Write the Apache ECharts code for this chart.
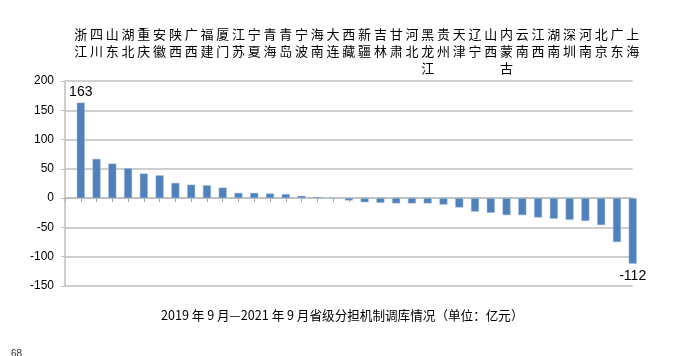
<!DOCTYPE html>
<html>
<head>
<meta charset="utf-8">
<script src="https://cdn.jsdelivr.net/npm/echarts@6/dist/echarts.min.js"></script>
<style>html,body{margin:0;padding:0;background:#fff;}#c{width:687px;height:356px;}</style>
</head>
<body>
<div id="c"></div>
<script>
var categories = ['浙江','四川','山东','湖北','重庆','安徽','陕西','广西','福建','厦门','江苏','宁夏','青海','青岛','宁波','海南','大连','西藏','新疆','吉林','甘肃','河北','黑龙江','贵州','天津','辽宁','山西','内蒙古','云南','江西','湖南','深圳','河南','北京','广东','上海'];
var values = [163,67,59,51,42,39,26,23,22,18,9,9,8,7,4,2,-0.5,-4,-7,-8,-9,-9,-9,-11,-16,-23,-25,-29,-29,-33,-35,-37,-39,-46,-75,-112];
var yTicks = {min:-150, max:200, interval:50};
var titleText = '2019 年 9 月—2021 年 9 月省级分担机制调库情况（单位：亿元）';
var pageNo = '68';

var cats = [''].concat(categories);
var barData = [null].concat(values.map(function(v, i){
  var item = {value: v};
  if (i === 0) item.label = {show:true, position:'top', distance:4};
  if (i === values.length - 1) item.label = {show:true, position:'bottom', distance:5};
  return item;
}));
var font = '"Noto Sans CJK SC", "Liberation Sans", sans-serif';
var chart = echarts.init(document.getElementById('c'));
chart.setOption({
  animation:false,
  grid:{left:65, top:81, width:567.7, height:205, containLabel:false},
  title:{text:titleText, left:156, top:304, textStyle:{fontSize:12.6, fontWeight:'normal', color:'#000', fontFamily:font}},
  graphic:[{type:'text', left:11, top:349, style:{text:pageNo, fontSize:10, fill:'#333', fontFamily:'Liberation Sans'}}],
  xAxis:[{
    type:'category', data:cats, boundaryGap:false,
    axisLine:{show:true, onZero:true, lineStyle:{color:'#bfbfbf', width:1.5}},
    axisTick:{show:true, length:4, interval:0, lineStyle:{color:'#a6a6a6'}},
    axisLabel:{show:false}, splitLine:{show:false}
  },{
    type:'category', data:cats, boundaryGap:false, position:'top',
    axisLine:{show:false}, axisTick:{show:false}, splitLine:{show:false},
    axisLabel:{show:true, interval:0, margin:55, verticalAlign:'top', fontSize:13, lineHeight:17, color:'#000', fontFamily:font,
      formatter:function(v){return v.split('').join('\n');}}
  }],
  yAxis:{
    type:'value', min:yTicks.min, max:yTicks.max, interval:yTicks.interval,
    axisLine:{show:true, lineStyle:{color:'#bfbfbf', width:1.5}},
    axisTick:{show:true, length:4, lineStyle:{color:'#bfbfbf'}},
    axisLabel:{margin:11, fontSize:12, color:'#000', fontFamily:'"Liberation Sans", sans-serif'},
    splitLine:{show:true, lineStyle:{color:'#bfbfbf', width:1.5}}
  },
  series:[{
    type:'bar', xAxisIndex:0, data:barData, barWidth:8,
    itemStyle:{color:'#4f81bd', borderColor:'#9dbbe0', borderWidth:0.5},
    label:{show:false, fontSize:14, color:'#000', fontFamily:'"Liberation Sans", sans-serif'}
  }]
});
</script>
</body>
</html>
